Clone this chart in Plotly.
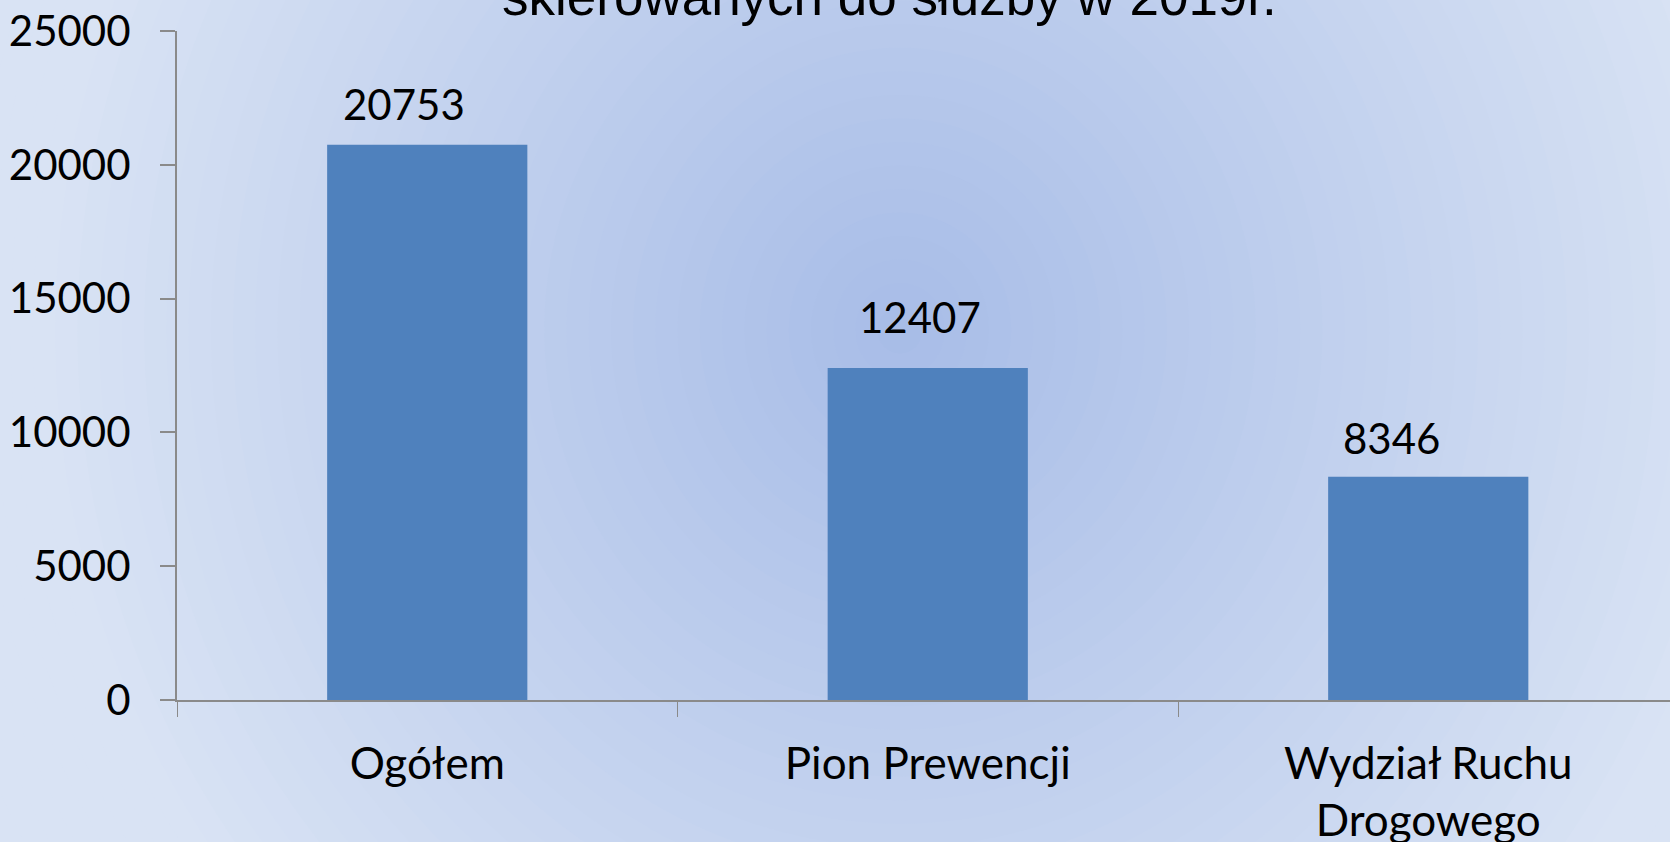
import plotly.graph_objects as go

# ---- data ----
categories = ["Ogółem", "Pion Prewencji", "Wydział Ruchu<br>Drogowego"]
values = [20753, 12407, 8346]
label_texts = ["20753", "12407", "8346"]
title_text = "skierowanych do służby w 2019r."

# ---- styling ----
W, H = 1670, 842
ML, MR, MT, MB = 177, 0, 31, 142
PW, PH = W - ML - MR, H - MT - MB
CAT_PX = 500.5
label_xshift = [-23, -8, -37]
label_yshift = [14, 24, 12]
BAR_COLOR = "#4f81bd"
AXIS_COLOR = "#8a8a8a"
CENTER_RGB = (167, 188, 231)
EDGE_RGB = (217, 227, 244)


def px2paper_x(px):
    return (px - ML) / PW


def px2paper_y(py):
    return (H - MB - py) / PH


fig = go.Figure()
fig.add_trace(go.Bar(
    x=categories, y=values, width=0.4,
    marker=dict(color=BAR_COLOR, line=dict(width=0)),
    hoverinfo="x+y",
))

# background radial gradient (concentric ellipses)
shapes = []
N = 45
cx, cy = 900, 330
RX, RY = 870, 920
for k in range(N):
    d = 1.15 * (1 - k / N)
    t = min(d, 1.0)
    col = tuple(round(CENTER_RGB[i] + (EDGE_RGB[i] - CENTER_RGB[i]) * t) for i in range(3))
    shapes.append(dict(
        type="circle", xref="paper", yref="paper", layer="below",
        x0=px2paper_x(cx - RX * d), x1=px2paper_x(cx + RX * d),
        y0=px2paper_y(cy + RY * d), y1=px2paper_y(cy - RY * d),
        fillcolor="rgb(%d,%d,%d)" % col, line=dict(width=0),
    ))

annotations = []
for c, v, t, xs, ys in zip(categories, values, label_texts, label_xshift, label_yshift):
    annotations.append(dict(
        x=c, y=v, xref="x", yref="y", text=t, showarrow=False,
        yanchor="bottom", xanchor="center", xshift=xs, yshift=ys,
        font=dict(family="Lato", size=42, color="black"),
    ))
annotations.append(dict(
    x=px2paper_x(889), y=1, xref="paper", yref="paper", text=title_text,
    showarrow=False, xanchor="center", yanchor="bottom", yshift=3,
    font=dict(family="Liberation Sans", size=53, color="black"),
))

fig.update_layout(
    width=W, height=H, autosize=False,
    margin=dict(l=ML, r=MR, t=MT, b=MB, pad=0, autoexpand=False),
    paper_bgcolor="rgb(%d,%d,%d)" % EDGE_RGB,
    plot_bgcolor="rgba(0,0,0,0)",
    showlegend=False,
    shapes=shapes,
    annotations=annotations,
    bargap=0.6,
    font=dict(family="Lato", size=42, color="black"),
)
fig.update_xaxes(
    type="category", automargin=False,
    range=[-0.5, -0.5 + PW / CAT_PX],
    showline=True, linecolor=AXIS_COLOR, linewidth=2,
    ticks="outside", tickson="boundaries", ticklen=15, tickcolor=AXIS_COLOR, tickwidth=1,
    ticklabelstandoff=24,
    tickfont=dict(family="Lato", size=44, color="black"),
    showgrid=False, zeroline=False, fixedrange=True,
)
fig.update_yaxes(
    range=[0, 25000], dtick=5000, tick0=0, tickformat="d", automargin=False,
    showline=True, linecolor=AXIS_COLOR, linewidth=2,
    ticks="outside", ticklen=15, tickcolor=AXIS_COLOR, tickwidth=2,
    ticklabelstandoff=21,
    tickfont=dict(family="Lato", size=42, color="black"),
    showgrid=False, zeroline=False, fixedrange=True,
)

fig.write_html("out.html", config={"displayModeBar": False},
               post_script="document.body.style.margin='0';")
